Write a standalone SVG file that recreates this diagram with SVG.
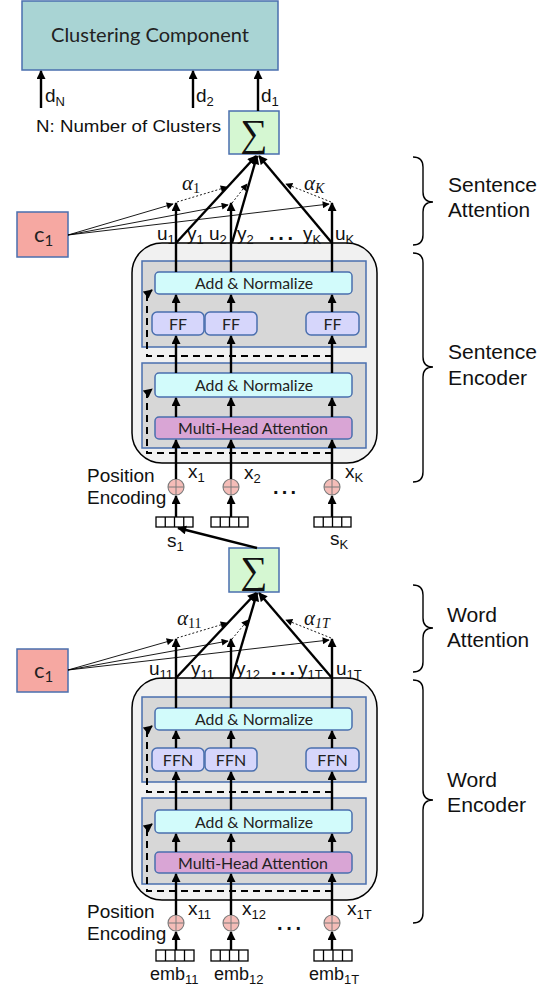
<svg xmlns="http://www.w3.org/2000/svg" width="553" height="991" viewBox="0 0 553 991">
  <defs>
    <marker id="ah" viewBox="0 0 10 10" refX="9" refY="5" markerWidth="10" markerHeight="9" markerUnits="userSpaceOnUse" orient="auto">
      <path d="M0,0 L10,5 L0,10 z" fill="#000"/>
    </marker>
    <marker id="ahs" viewBox="0 0 10 10" refX="9" refY="5" markerWidth="8" markerHeight="7" markerUnits="userSpaceOnUse" orient="auto">
      <path d="M0,0 L10,5 L0,10 z" fill="#000"/>
    </marker>
    <style>
      .box { stroke: #4a6fae; stroke-width: 1.5; }
      .clus { fill: #a9d4d4; }
      .sum { fill: #d5f7d2; }
      .ctx { fill: #f6a8a2; }
      .outer { fill: #f1f1f1; stroke: #000; stroke-width: 1.5; }
      .layer { fill: #d7d7d7; stroke: #4a6fae; stroke-width: 1.5; }
      .norm { fill: #d2fbfb; stroke: #4a6fae; stroke-width: 1.5; }
      .ff { fill: #d6d6fb; stroke: #4a6fae; stroke-width: 1.5; }
      .mha { fill: #d9a5d5; stroke: #4a6fae; stroke-width: 1.5; }
      .emb { fill: #fff; stroke: #000; stroke-width: 1.3; }
      .pe { fill: #f5bdb8; stroke: #7a7a7a; stroke-width: 1.1; }
      .pex { stroke: #7a7a7a; stroke-width: 1; }
      .lbl { font-family: Lato, "Open Sans", sans-serif; fill: #222; }
      .txt { font-family: "Liberation Sans", Arial, sans-serif; fill: #111; }
      .math { font-family: "Liberation Serif", "DejaVu Serif", serif; font-style: italic; fill: #111; }
      .sig { font-family: "Liberation Serif", "DejaVu Serif", serif; fill: #111; }
      .dots { font-family: "Liberation Sans", Arial, sans-serif; font-weight: bold; fill: #111; }
      .thick { stroke: #000; stroke-width: 2.4; fill: none; }
      .thin { stroke: #000; stroke-width: 0.9; fill: none; }
      .dot { stroke: #000; stroke-width: 0.9; stroke-dasharray: 2,2; fill: none; }
      .dash { stroke: #000; stroke-width: 2; stroke-dasharray: 7,5; fill: none; }
      .brace { stroke: #000; stroke-width: 1.4; fill: none; }
    </style>
  </defs>

  <!-- clustering head -->
  <g id="clustering">
    <rect class="box clus" x="22" y="1" width="256" height="69"/>
    <text class="lbl" x="150" y="42" font-size="19" text-anchor="middle" textLength="198" lengthAdjust="spacingAndGlyphs">Clustering Component</text>
  </g>
  <g id="cluster-inputs">
    <text class="txt" x="45" y="102" font-size="19">d<tspan font-size="13" dy="4">N</tspan></text>
    <text class="txt" x="196" y="102" font-size="19">d<tspan font-size="13" dy="4">2</tspan></text>
    <text class="txt" x="261" y="102" font-size="19">d<tspan font-size="13" dy="4">1</tspan></text>
    <text class="txt" x="36" y="132" font-size="17" textLength="185" lengthAdjust="spacingAndGlyphs">N: Number of Clusters</text>
  </g>

  <!-- sentence-level sum -->
  <g id="sum-sentence">
    <rect class="box sum" x="229" y="111" width="50" height="43"/>
    <text class="sig" x="254" y="146" font-size="38" text-anchor="middle">∑</text>
  </g>

  <!-- sentence context vector -->
  <g id="ctx-sentence">
    <rect class="box ctx" x="17" y="212" width="51" height="45"/>
    <text class="lbl" x="34" y="242" font-size="22">c<tspan font-size="15" dy="4">1</tspan></text>
  </g>

  <!-- sentence encoder block -->
  <g id="sentence-encoder">
    <rect class="outer" x="132" y="243" width="245" height="220" rx="30"/>
    <rect class="layer" x="142" y="261" width="224" height="86"/>
    <rect class="layer" x="142" y="363" width="224" height="85"/>
    <rect class="norm" x="155" y="272" width="197" height="22" rx="4"/>
    <text class="lbl" x="254" y="289" font-size="16" text-anchor="middle" textLength="118" lengthAdjust="spacingAndGlyphs">Add &amp; Normalize</text>
    <rect class="ff" x="152" y="312" width="52" height="23" rx="5"/>
    <text class="lbl" x="178" y="329.5" font-size="16" text-anchor="middle">FF</text>
    <rect class="ff" x="205" y="312" width="52" height="23" rx="5"/>
    <text class="lbl" x="231" y="329.5" font-size="16" text-anchor="middle">FF</text>
    <rect class="ff" x="306" y="312" width="53" height="23" rx="5"/>
    <text class="lbl" x="332.5" y="329.5" font-size="16" text-anchor="middle">FF</text>
    <rect class="norm" x="155" y="373" width="197" height="24" rx="4"/>
    <text class="lbl" x="254" y="391" font-size="16" text-anchor="middle" textLength="118" lengthAdjust="spacingAndGlyphs">Add &amp; Normalize</text>
    <rect class="mha" x="155" y="417" width="197" height="22" rx="4"/>
    <text class="lbl" x="253" y="434" font-size="16" text-anchor="middle" textLength="150" lengthAdjust="spacingAndGlyphs">Multi-Head Attention</text>
  </g>

  <!-- sentence position encoding and inputs -->
  <g id="sentence-inputs">
    <text class="txt" x="87" y="482" font-size="19">Position</text>
    <text class="txt" x="87" y="504" font-size="19">Encoding</text>
    <g id="pe-s1"><circle class="pe" cx="176" cy="487" r="8"/><path class="pex" d="M168,487 H184 M176,479 V495"/></g>
    <g id="pe-s2"><circle class="pe" cx="231" cy="487" r="8"/><path class="pex" d="M223,487 H239 M231,479 V495"/></g>
    <g id="pe-sK"><circle class="pe" cx="332" cy="487" r="8"/><path class="pex" d="M324,487 H340 M332,479 V495"/></g>
    <g id="emb-s1"><rect class="emb" x="156" y="517" width="37" height="10"/><path class="emb" d="M165.25,517 V527 M174.5,517 V527 M183.75,517 V527"/></g>
    <g id="emb-s2"><rect class="emb" x="211" y="517" width="37" height="10"/><path class="emb" d="M220.25,517 V527 M229.5,517 V527 M238.75,517 V527"/></g>
    <g id="emb-sK"><rect class="emb" x="314" y="517" width="37" height="10"/><path class="emb" d="M323.25,517 V527 M332.5,517 V527 M341.75,517 V527"/></g>
    <text class="txt" x="188" y="478" font-size="19">x<tspan font-size="13" dy="4">1</tspan></text>
    <text class="txt" x="244" y="479" font-size="19">x<tspan font-size="13" dy="4">2</tspan></text>
    <text class="txt" x="345" y="478" font-size="19">x<tspan font-size="13" dy="4">K</tspan></text>
    <text class="dots" x="273" y="494" font-size="20" textLength="23" lengthAdjust="spacing">...</text>
    <text class="txt" x="167" y="547" font-size="19">s<tspan font-size="13" dy="4">1</tspan></text>
    <text class="txt" x="330" y="545" font-size="19">s<tspan font-size="13" dy="4">K</tspan></text>
  </g>

  <!-- sentence attention labels -->
  <g id="sentence-attn-labels">
    <text class="txt" x="157" y="240" font-size="19">u<tspan font-size="13" dy="4">1</tspan></text>
    <text class="txt" x="187" y="240" font-size="19">y<tspan font-size="13" dy="4">1</tspan></text>
    <text class="txt" x="209" y="240" font-size="19">u<tspan font-size="13" dy="4">2</tspan></text>
    <text class="txt" x="237" y="240" font-size="19">y<tspan font-size="13" dy="4">2</tspan></text>
    <text class="dots" x="269" y="240" font-size="20" textLength="24" lengthAdjust="spacing">...</text>
    <text class="txt" x="303" y="240" font-size="19">y<tspan font-size="13" dy="4">K</tspan></text>
    <text class="txt" x="335" y="240" font-size="19">u<tspan font-size="13" dy="4">K</tspan></text>
    <text class="math" x="182" y="190" font-size="21">α<tspan font-size="14" dy="3" font-style="normal">1</tspan></text>
    <text class="math" x="304" y="190" font-size="21">α<tspan font-size="14" dy="3">K</tspan></text>
  </g>

  <!-- word-level sum -->
  <g id="sum-word">
    <rect class="box sum" x="229" y="548" width="50" height="44"/>
    <text class="sig" x="254" y="583" font-size="38" text-anchor="middle">∑</text>
  </g>

  <!-- word context vector -->
  <g id="ctx-word">
    <rect class="box ctx" x="17" y="649" width="51" height="43"/>
    <text class="lbl" x="34" y="678" font-size="22">c<tspan font-size="15" dy="4">1</tspan></text>
  </g>

  <!-- word encoder block -->
  <g id="word-encoder">
    <rect class="outer" x="132" y="678" width="245" height="222" rx="30"/>
    <rect class="layer" x="142" y="697" width="224" height="85"/>
    <rect class="layer" x="142" y="798" width="224" height="86"/>
    <rect class="norm" x="155" y="708" width="197" height="22" rx="4"/>
    <text class="lbl" x="254" y="725" font-size="16" text-anchor="middle" textLength="118" lengthAdjust="spacingAndGlyphs">Add &amp; Normalize</text>
    <rect class="ff" x="152" y="748" width="52" height="23" rx="5"/>
    <text class="lbl" x="178" y="765.5" font-size="16" text-anchor="middle">FFN</text>
    <rect class="ff" x="205" y="748" width="52" height="23" rx="5"/>
    <text class="lbl" x="231" y="765.5" font-size="16" text-anchor="middle">FFN</text>
    <rect class="ff" x="306" y="748" width="53" height="23" rx="5"/>
    <text class="lbl" x="332.5" y="765.5" font-size="16" text-anchor="middle">FFN</text>
    <rect class="norm" x="155" y="810" width="197" height="23" rx="4"/>
    <text class="lbl" x="254" y="827.5" font-size="16" text-anchor="middle" textLength="118" lengthAdjust="spacingAndGlyphs">Add &amp; Normalize</text>
    <rect class="mha" x="155" y="852" width="197" height="21" rx="4"/>
    <text class="lbl" x="253" y="868.5" font-size="16" text-anchor="middle" textLength="150" lengthAdjust="spacingAndGlyphs">Multi-Head Attention</text>
  </g>

  <!-- word position encoding and embeddings -->
  <g id="word-inputs">
    <text class="txt" x="87" y="918" font-size="19">Position</text>
    <text class="txt" x="87" y="940" font-size="19">Encoding</text>
    <g id="pe-w1"><circle class="pe" cx="176" cy="923" r="8"/><path class="pex" d="M168,923 H184 M176,915 V931"/></g>
    <g id="pe-w2"><circle class="pe" cx="231" cy="923" r="8"/><path class="pex" d="M223,923 H239 M231,915 V931"/></g>
    <g id="pe-wT"><circle class="pe" cx="332" cy="923" r="8"/><path class="pex" d="M324,923 H340 M332,915 V931"/></g>
    <g id="emb-w1"><rect class="emb" x="156" y="950" width="38" height="11"/><path class="emb" d="M165.5,950 V961 M175,950 V961 M184.5,950 V961"/></g>
    <g id="emb-w2"><rect class="emb" x="211" y="950" width="37" height="11"/><path class="emb" d="M220.25,950 V961 M229.5,950 V961 M238.75,950 V961"/></g>
    <g id="emb-wT"><rect class="emb" x="314" y="950" width="38" height="11"/><path class="emb" d="M323.5,950 V961 M333,950 V961 M342.5,950 V961"/></g>
    <text class="txt" x="188" y="915" font-size="19">x<tspan font-size="13" dy="4">11</tspan></text>
    <text class="txt" x="242" y="915" font-size="19">x<tspan font-size="13" dy="4">12</tspan></text>
    <text class="txt" x="347" y="915" font-size="19">x<tspan font-size="13" dy="4">1T</tspan></text>
    <text class="dots" x="277" y="930" font-size="20" textLength="24" lengthAdjust="spacing">...</text>
    <text class="txt" x="150" y="980" font-size="18">emb<tspan font-size="13" dy="4">11</tspan></text>
    <text class="txt" x="214" y="980" font-size="18">emb<tspan font-size="13" dy="4">12</tspan></text>
    <text class="txt" x="309" y="980" font-size="18">emb<tspan font-size="13" dy="4">1T</tspan></text>
  </g>

  <!-- word attention labels -->
  <g id="word-attn-labels">
    <text class="txt" x="149" y="675" font-size="19">u<tspan font-size="13" dy="4">11</tspan></text>
    <text class="txt" x="191" y="675" font-size="19">y<tspan font-size="13" dy="4">11</tspan></text>
    <text class="txt" x="236" y="675" font-size="19">y<tspan font-size="13" dy="4">12</tspan></text>
    <text class="dots" x="271" y="675" font-size="20" textLength="24" lengthAdjust="spacing">...</text>
    <text class="txt" x="298" y="675" font-size="19">y<tspan font-size="13" dy="4">1T</tspan></text>
    <text class="txt" x="336" y="675" font-size="19">u<tspan font-size="13" dy="4">1T</tspan></text>
    <text class="math" x="177" y="625" font-size="21">α<tspan font-size="14" dy="3" font-style="normal">11</tspan></text>
    <text class="math" x="304" y="625" font-size="21">α<tspan font-size="14" dy="3">1T</tspan></text>
  </g>

  <!-- section braces and captions -->
  <g id="brace-sentence-attention">
    <path class="brace" d="M413,157 Q423,157 423,167 V192 Q423,202 433,202 Q423,202 423,212 V235 Q423,245 413,245"/>
    <text class="txt" x="448" y="192" font-size="20" textLength="89" lengthAdjust="spacingAndGlyphs">Sentence</text>
    <text class="txt" x="448" y="217" font-size="20" textLength="82" lengthAdjust="spacingAndGlyphs">Attention</text>
  </g>
  <g id="brace-sentence-encoder">
    <path class="brace" d="M413,253 Q423,253 423,263 V357 Q423,367 433,367 Q423,367 423,377 V472 Q423,482 413,482"/>
    <text class="txt" x="448" y="359" font-size="20" textLength="89" lengthAdjust="spacingAndGlyphs">Sentence</text>
    <text class="txt" x="448" y="385" font-size="20" textLength="79" lengthAdjust="spacingAndGlyphs">Encoder</text>
  </g>
  <g id="brace-word-attention">
    <path class="brace" d="M413,585 Q423,585 423,595 V618 Q423,628 433,628 Q423,628 423,638 V662 Q423,672 413,672"/>
    <text class="txt" x="447" y="622" font-size="20" textLength="50" lengthAdjust="spacingAndGlyphs">Word</text>
    <text class="txt" x="447" y="647" font-size="20" textLength="82" lengthAdjust="spacingAndGlyphs">Attention</text>
  </g>
  <g id="brace-word-encoder">
    <path class="brace" d="M413,680 Q423,680 423,690 V790 Q423,800 433,800 Q423,800 423,810 V913 Q423,923 413,923"/>
    <text class="txt" x="447" y="787" font-size="20" textLength="50" lengthAdjust="spacingAndGlyphs">Word</text>
    <text class="txt" x="447" y="812" font-size="20" textLength="79" lengthAdjust="spacingAndGlyphs">Encoder</text>
  </g>

  <!-- connectors -->
  <g id="connectors">
    <!-- into the clustering component -->
    <path class="thick" d="M41,108 V71" marker-end="url(#ah)"/>
    <path class="thick" d="M193,108 V71" marker-end="url(#ah)"/>
    <path class="thick" d="M258,111 V71" marker-end="url(#ah)"/>

    <!-- sentence attention -->
    <path class="thick" d="M176,243 L256,156" marker-end="url(#ah)"/>
    <path class="thick" d="M232,243 L257,156" marker-end="url(#ah)"/>
    <path class="thick" d="M332,243 L259,156" marker-end="url(#ah)"/>
    <path class="dot" d="M177,202 L227,187" marker-end="url(#ahs)"/>
    <path class="dot" d="M232,203 L247,184" marker-end="url(#ahs)"/>
    <path class="dot" d="M331,202 L286,184" marker-end="url(#ahs)"/>
    <path class="thin" d="M68,235 L173,204" marker-end="url(#ahs)"/>
    <path class="thin" d="M68,235 L228,205" marker-end="url(#ahs)"/>
    <path class="thin" d="M68,235 L329,204" marker-end="url(#ahs)"/>

    <!-- sentence encoder columns -->
    <path class="thick" d="M176,272 V203" marker-end="url(#ah)"/>
    <path class="thick" d="M231,272 V203" marker-end="url(#ah)"/>
    <path class="thick" d="M332,272 V203" marker-end="url(#ah)"/>
    <path class="thick" d="M176,312 V295" marker-end="url(#ah)"/>
    <path class="thick" d="M231,312 V295" marker-end="url(#ah)"/>
    <path class="thick" d="M332,312 V295" marker-end="url(#ah)"/>
    <path class="thick" d="M176,373 V336" marker-end="url(#ah)"/>
    <path class="thick" d="M231,373 V336" marker-end="url(#ah)"/>
    <path class="thick" d="M332,373 V336" marker-end="url(#ah)"/>
    <path class="thick" d="M176,417 V398" marker-end="url(#ah)"/>
    <path class="thick" d="M231,417 V398" marker-end="url(#ah)"/>
    <path class="thick" d="M332,417 V398" marker-end="url(#ah)"/>
    <path class="thick" d="M176,479 V440" marker-end="url(#ah)"/>
    <path class="thick" d="M231,479 V440" marker-end="url(#ah)"/>
    <path class="thick" d="M332,479 V440" marker-end="url(#ah)"/>
    <path class="dash" d="M332,356 H147 V294 L152,290" marker-end="url(#ah)"/>
    <path class="dash" d="M332,453 H147 V393 L152,389" marker-end="url(#ah)"/>
    <path class="thick" d="M176,517 V496" marker-end="url(#ah)"/>
    <path class="thick" d="M231,517 V496" marker-end="url(#ah)"/>
    <path class="thick" d="M332,517 V496" marker-end="url(#ah)"/>

    <!-- word sum to first sentence vector -->
    <path class="thick" d="M257,548 L178,528" marker-end="url(#ah)"/>

    <!-- word attention -->
    <path class="thick" d="M176,678 L256,593" marker-end="url(#ah)"/>
    <path class="thick" d="M232,678 L257,593" marker-end="url(#ah)"/>
    <path class="thick" d="M332,678 L259,593" marker-end="url(#ah)"/>
    <path class="dot" d="M177,638 L227,623" marker-end="url(#ahs)"/>
    <path class="dot" d="M232,639 L248,620" marker-end="url(#ahs)"/>
    <path class="dot" d="M331,638 L286,620" marker-end="url(#ahs)"/>
    <path class="thin" d="M68,670 L173,640" marker-end="url(#ahs)"/>
    <path class="thin" d="M68,670 L228,641" marker-end="url(#ahs)"/>
    <path class="thin" d="M68,670 L329,640" marker-end="url(#ahs)"/>

    <!-- word encoder columns -->
    <path class="thick" d="M176,708 V639" marker-end="url(#ah)"/>
    <path class="thick" d="M231,708 V639" marker-end="url(#ah)"/>
    <path class="thick" d="M332,708 V639" marker-end="url(#ah)"/>
    <path class="thick" d="M176,748 V731" marker-end="url(#ah)"/>
    <path class="thick" d="M231,748 V731" marker-end="url(#ah)"/>
    <path class="thick" d="M332,748 V731" marker-end="url(#ah)"/>
    <path class="thick" d="M176,810 V772" marker-end="url(#ah)"/>
    <path class="thick" d="M231,810 V772" marker-end="url(#ah)"/>
    <path class="thick" d="M332,810 V772" marker-end="url(#ah)"/>
    <path class="thick" d="M176,852 V834" marker-end="url(#ah)"/>
    <path class="thick" d="M231,852 V834" marker-end="url(#ah)"/>
    <path class="thick" d="M332,852 V834" marker-end="url(#ah)"/>
    <path class="thick" d="M176,915 V874" marker-end="url(#ah)"/>
    <path class="thick" d="M231,915 V874" marker-end="url(#ah)"/>
    <path class="thick" d="M332,915 V874" marker-end="url(#ah)"/>
    <path class="dash" d="M332,792 H147 V730 L152,726" marker-end="url(#ah)"/>
    <path class="dash" d="M332,891 H147 V828 L152,824" marker-end="url(#ah)"/>
    <path class="thick" d="M176,950 V932" marker-end="url(#ah)"/>
    <path class="thick" d="M231,950 V932" marker-end="url(#ah)"/>
    <path class="thick" d="M332,950 V932" marker-end="url(#ah)"/>
  </g>
</svg>
